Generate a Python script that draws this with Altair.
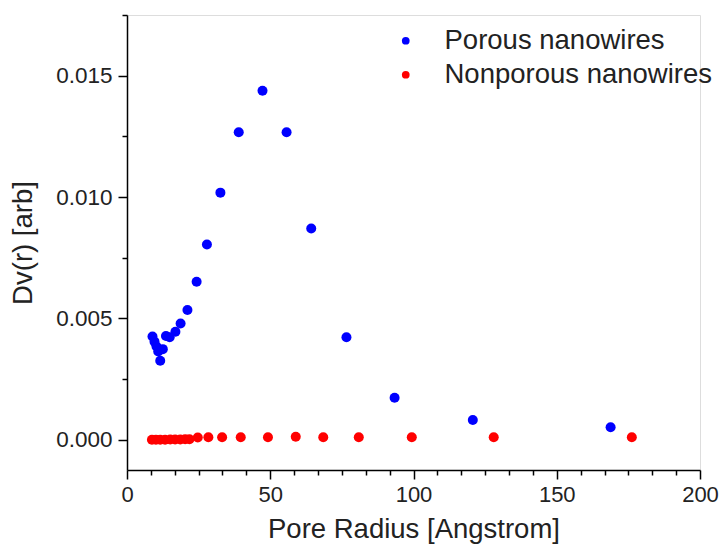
import altair as alt
import pandas as pd

porous_r = [8.9, 9.6, 10.3, 10.9, 11.6, 12.5, 13.6, 14.9, 16.9, 18.7, 21.1, 24.3,
            27.9, 32.6, 39.0, 47.3, 55.7, 64.3, 76.6, 93.4, 120.7, 168.8]
porous_v = [0.00425, 0.00404, 0.00384, 0.00363, 0.00325, 0.00373, 0.00427, 0.00422,
            0.00445, 0.00479, 0.00534, 0.00651, 0.00804, 0.01018, 0.01267, 0.01438,
            0.01267, 0.0087, 0.00422, 0.00173, 0.00081, 0.00051]

nonporous_r = [8.7, 10.1, 11.6, 13.3, 15.1, 16.8, 18.6, 20.3, 21.8, 24.7, 28.4,
               33.2, 39.7, 49.2, 58.9, 68.5, 80.9, 99.4, 128.0, 176.2]
nonporous_v = [0.0, 0.0, 0.0, 0.0, 0.00001, 0.00001, 0.00001, 0.00002, 0.00002,
               0.00009, 0.0001, 0.0001, 0.0001, 0.0001, 0.00012, 0.0001, 0.0001,
               0.0001, 0.0001, 0.0001]

series = ["Porous nanowires", "Nonporous nanowires"]
colors = ["#0000FF", "#FF0000"]

x_ticks = [round(k * 50 / 6, 4) for k in range(25)]
y_ticks = [round(k * 0.0025, 5) for k in range(8)]

df = pd.DataFrame({
    "r": porous_r + nonporous_r,
    "v": porous_v + nonporous_v,
    "s": [series[0]] * len(porous_r) + [series[1]] * len(nonporous_r),
})

FONT = "Liberation Sans"

chart = alt.Chart(df).mark_circle(size=100, opacity=1).encode(
    x=alt.X("r:Q", scale=alt.Scale(domain=[0, 200], nice=False, zero=False),
            axis=alt.Axis(title="Pore Radius [Angstrom]", values=x_ticks,
                          labelExpr="abs(datum.value % 50) < 0.001 ? format(datum.value, 'd') : ''",
                          tickSize={"condition": {"test": "abs(datum.value % 50) < 0.001", "value": 9}, "value": 5},
                          labelPadding=5, titlePadding=10, grid=False,
                          domainColor="black", tickColor="black", domainWidth=1.5, tickWidth=1.5,
                          labelColor="#222", titleColor="#222",
                          labelFont=FONT, titleFont=FONT, labelFontSize=22, titleFontSize=27.5,
                          titleFontWeight="normal", labelFlush=False)),
    y=alt.Y("v:Q", scale=alt.Scale(domain=[-0.00125, 0.0175], nice=False, zero=False),
            axis=alt.Axis(title="Dv(r) [arb]", values=y_ticks,
                          labelExpr="round(datum.value * 10000) % 50 === 0 ? format(datum.value, '.3f') : ''",
                          tickSize={"condition": {"test": "round(datum.value * 10000) % 50 === 0", "value": 9}, "value": 5},
                          labelPadding=6, titlePadding=18, grid=False,
                          domainColor="black", tickColor="black", domainWidth=1.5, tickWidth=1.5,
                          labelColor="#222", titleColor="#222",
                          labelFont=FONT, titleFont=FONT, labelFontSize=22.5, titleFontSize=27.5,
                          titleFontWeight="normal", labelFlush=False)),
    color=alt.Color("s:N", scale=alt.Scale(domain=series, range=colors),
                    legend=alt.Legend(title=None, orient="none", legendX=265, legendY=12,
                                      symbolType="circle", symbolSize=60, labelFont=FONT,
                                      labelFontSize=27.5, labelColor="#222", labelOffset=25,
                                      labelLimit=0, rowPadding=5, padding=0,
                                      symbolStrokeWidth=0)),
).properties(
    width=573, height=455,
    padding={"left": 119, "top": 7, "right": 20, "bottom": 80},
    autosize=alt.AutoSizeParams(type="none"),
).configure_view(stroke=None).configure(background="white")

chart.save("out.html", embed_options={"renderer": "svg", "actions": False})
